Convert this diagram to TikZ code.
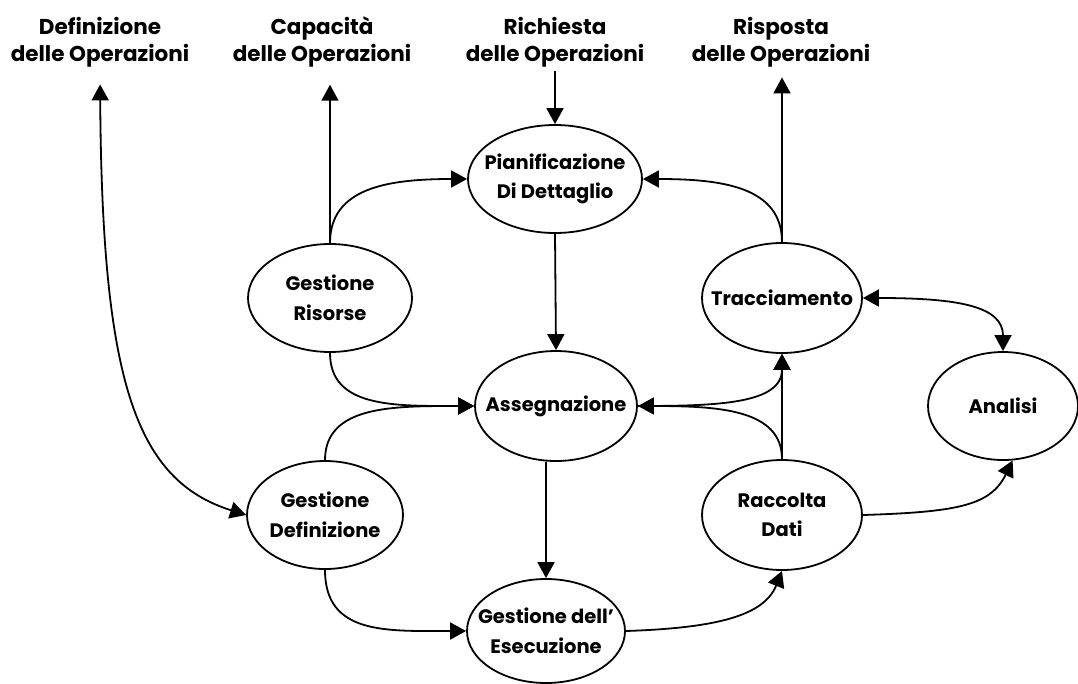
\documentclass[tikz,border=0pt]{standalone}
\usepackage{fontspec}
\setmainfont{Poppins}
\usetikzlibrary{shapes.geometric,arrows.meta}
\begin{document}
\begin{tikzpicture}[x=1pt,y=-1pt,
  font=\fontsize{19.5}{29.5}\selectfont\bfseries,
  proc/.style={ellipse,draw,line width=1.8pt,inner sep=-45pt,align=center},
  ext/.style={align=center,inner sep=0pt,font=\fontsize{21.5}{27.5}\selectfont\bfseries},
  tip/.tip={Triangle[length=16pt,width=17pt]},
  flow/.style={line width=1.8pt,-tip},
  both/.style={line width=1.8pt,tip-tip}]
\useasboundingbox (0,0) rectangle (1078,683);

% external inputs and outputs
\node[ext] (ldef) at (100,42) {Definizione\\delle Operazioni};
\node[ext] (lcap) at (322,42) {Capacità\\delle Operazioni};
\node[ext] (lric) at (555,42) {Richiesta\\delle Operazioni};
\node[ext] (lris) at (781,42) {Risposta\\delle Operazioni};

% processes (fixed ellipse sizes, text set inside)
\node[proc,minimum width=174pt,minimum height=108pt] (plan) at (555,179) {Pianificazione\\Di Dettaglio};
\node[proc,minimum width=164pt,minimum height=108pt] (gris) at (330,298) {Gestione\\Risorse};
\node[proc,minimum width=162pt,minimum height=110pt] (asse) at (556,406) {Assegnazione};
\node[proc,minimum width=156pt,minimum height=108pt] (gdef) at (325,515) {Gestione\\Definizione};
\node[proc,minimum width=158pt,minimum height=104pt] (gese) at (546,631) {Gestione dell'\\Esecuzione};
\node[proc,minimum width=160pt,minimum height=110pt] (trac) at (782,298) {Tracciamento};
\node[proc,minimum width=150pt,minimum height=108pt] (anal) at (1003,406) {Analisi};
\node[proc,minimum width=160pt,minimum height=110pt] (racc) at (782,515) {Raccolta\\Dati};

% flows to and from the outside
\draw[both,shorten <=17pt] (ldef.south) .. controls (102,380) and (135,480) .. (gdef.west);
\draw[flow,shorten >=17pt] (gris.north) -- (gris.north |- lcap.south);
\draw[flow,shorten <=4pt] (lric.south) -- (plan.north);
\draw[flow,shorten >=10pt] (trac.north) -- (trac.north |- lris.south);

% internal flows
\draw[flow] (gris.north) .. controls +(0,-55) and +(-80,0) .. (plan.west);
\draw[flow] (trac.north) .. controls +(0,-55) and +(80,0) .. (plan.east);
\draw[flow] (plan.south) -- (asse.north);
\draw[flow] (gris.south) .. controls +(0,55) and +(-80,0) .. (asse.west);
\draw[flow] (gdef.north) .. controls +(0,-55) and +(-80,0) .. (asse.west);
\draw[flow] (gese.north |- asse.south) -- (gese.north);
\draw[flow] (gdef.south) .. controls +(0,65) and +(-80,0) .. (gese.west);
\draw[flow] (gese.east) .. controls +(90,-3) and +(-18,45) .. (racc.south);
\draw[flow] (racc.north) -- (trac.south);
\draw[flow] (racc.north) .. controls +(0,-50) and +(80,0) .. (asse.east);
\draw[flow] (asse.east) .. controls +(80,0) and +(0,50) .. (trac.south);
\draw[both] (trac.east) .. controls +(95,0) and +(0,-45) .. (anal.north);
\draw[flow] (racc.east) .. controls +(95,-3) and +(-22,45) .. (anal.-80);
\end{tikzpicture}
\end{document}
